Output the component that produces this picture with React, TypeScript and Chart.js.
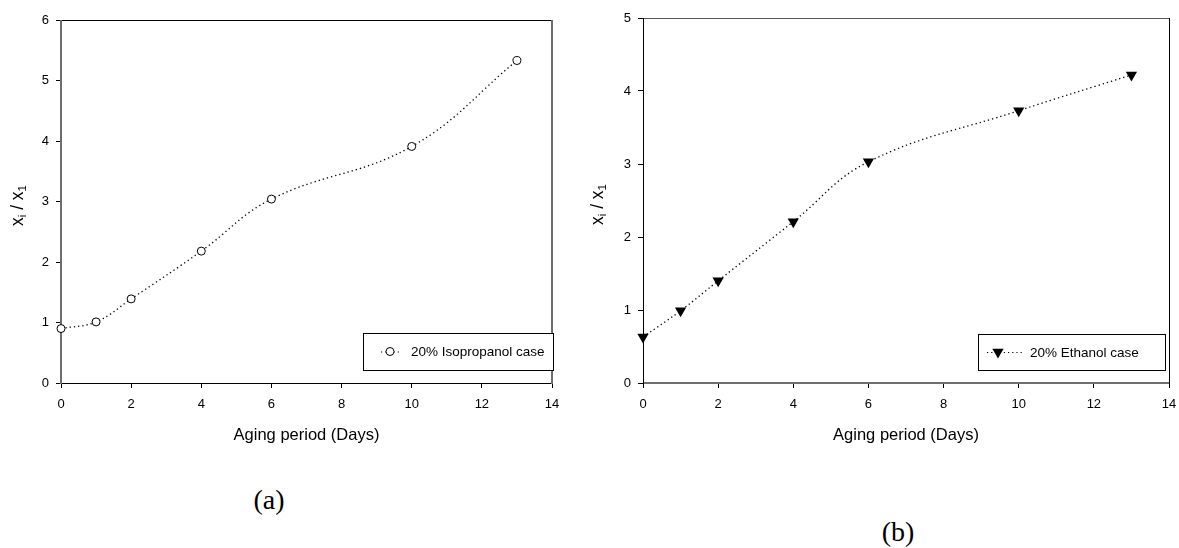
import React, { useEffect, useRef } from "react";
import { Chart, registerables } from "chart.js";

Chart.register(...registerables);

// ---- data ----
const days = [0, 1, 2, 4, 6, 10, 13];
const isopropanolRatio = [0.9, 1.01, 1.39, 2.18, 3.04, 3.91, 5.33];
const ethanolRatio = [0.63, 0.99, 1.4, 2.21, 3.03, 3.73, 4.22];
const xTickValues = [0, 2, 4, 6, 8, 10, 12, 14];
const leftYTicks = [0, 1, 2, 3, 4, 5, 6];
const rightYTicks = [0, 1, 2, 3, 4, 5];
const isoLabel = "20% Isopropanol case";
const ethLabel = "20% Ethanol case";
const xTitle = "Aging period (Days)";
const panelLabels = ["(a)", "(b)"];

const FONT = "'Liberation Sans', Arial, Helvetica, sans-serif";

type Side = { color: string; width: number };
type PanelCfg = {
  frame: { left: Side; bottom: Side; top: Side; right: Side };
  yTitleX: number;
  legend: { left: number; top: number; width: number; height: number; lineFrom: number; lineTo: number; marker: number; textX: number };
  marker: "circle" | "triangleDown";
};

function drawMarker(ctx: CanvasRenderingContext2D, kind: string, x: number, y: number) {
  ctx.save();
  ctx.setLineDash([]);
  if (kind === "circle") {
    ctx.beginPath();
    ctx.arc(x, y, 4, 0, Math.PI * 2);
    ctx.fillStyle = "#fff";
    ctx.fill();
    ctx.lineWidth = 1;
    ctx.strokeStyle = "#000";
    ctx.stroke();
  } else {
    const r = 6.5;
    ctx.beginPath();
    ctx.moveTo(x, y + r);
    ctx.lineTo(x - r * 0.866, y - r / 2);
    ctx.lineTo(x + r * 0.866, y - r / 2);
    ctx.closePath();
    ctx.fillStyle = "#000";
    ctx.fill();
  }
  ctx.restore();
}

function makePlugins(cfg: PanelCfg, legendText: string) {
  const frame = {
    id: "frame",
    beforeDatasetsDraw(chart: any) {
      const { ctx, chartArea: a } = chart;
      const line = (s: Side, x1: number, y1: number, x2: number, y2: number) => {
        ctx.save();
        ctx.strokeStyle = s.color;
        ctx.lineWidth = s.width;
        ctx.beginPath();
        ctx.moveTo(x1, y1);
        ctx.lineTo(x2, y2);
        ctx.stroke();
        ctx.restore();
      };
      const L = Math.round(a.left) + (cfg.frame.left.width % 2 ? 0.5 : 0);
      const R = Math.round(a.right) + (cfg.frame.right.width % 2 ? 0.5 : 0);
      const T = Math.round(a.top) + (cfg.frame.top.width % 2 ? 0.5 : 0);
      const B = Math.round(a.bottom) + (cfg.frame.bottom.width % 2 ? 0.5 : 0);
      line(cfg.frame.top, a.left, T, a.right, T);
      line(cfg.frame.bottom, a.left, B, a.right + 1, B);
      line(cfg.frame.left, L, a.top, L, a.bottom + 1);
      line(cfg.frame.right, R, a.top, R, a.bottom + 1);
    },
  };
  const yTitle = {
    id: "yTitle",
    afterDraw(chart: any) {
      const { ctx, chartArea: a } = chart;
      const cy = (a.top + a.bottom) / 2 + 4;
      const big = `17.5px ${FONT}`;
      const small = `11.5px ${FONT}`;
      const parts: [string, string, number][] = [
        ["x", big, 0],
        ["i", small, 4.5],
        [" / ", big, 0],
        ["x", big, 0],
        ["1", small, 4.5],
      ];
      ctx.save();
      let total = 0;
      const widths = parts.map(([t, f]) => {
        ctx.font = f;
        const w = ctx.measureText(t).width;
        total += w;
        return w;
      });
      ctx.translate(cfg.yTitleX, cy);
      ctx.rotate(-Math.PI / 2);
      ctx.fillStyle = "#000";
      ctx.textBaseline = "middle";
      let x = -total / 2;
      parts.forEach(([t, f, dy], i) => {
        ctx.font = f;
        ctx.fillText(t, x, dy);
        x += widths[i];
      });
      ctx.restore();
    },
  };
  const legend = {
    id: "customLegend",
    afterDraw(chart: any) {
      const { ctx } = chart;
      const g = cfg.legend;
      ctx.save();
      ctx.strokeStyle = "#000";
      ctx.lineWidth = 1;
      ctx.fillStyle = "#fff";
      ctx.fillRect(g.left, g.top, g.width, g.height);
      ctx.strokeRect(g.left + 0.5, g.top + 0.5, g.width, g.height);
      const cy = g.top + g.height / 2;
      ctx.setLineDash([1.2, 3]);
      ctx.lineWidth = 1.2;
      ctx.beginPath();
      ctx.moveTo(g.left + g.lineFrom, cy + 0.5);
      ctx.lineTo(g.left + g.lineTo, cy + 0.5);
      ctx.stroke();
      ctx.setLineDash([]);
      drawMarker(ctx, cfg.marker, g.left + g.marker, cy);
      ctx.fillStyle = "#000";
      ctx.font = `13.5px ${FONT}`;
      ctx.textBaseline = "middle";
      ctx.fillText(legendText, g.left + g.textX, cy + 1);
      ctx.restore();
    },
  };
  return [frame, yTitle, legend];
}

function makeConfig(
  values: number[],
  label: string,
  yTicks: number[],
  yAxisWidth: number,
  padRight: number,
  padTop: number,
  cfg: PanelCfg
): any {
  const isCircle = cfg.marker === "circle";
  return {
    type: "line",
    data: {
      datasets: [
        {
          label,
          data: days.map((d, i) => ({ x: d, y: values[i] })),
          borderColor: "#000",
          borderWidth: 1.3,
          borderDash: [1.3, 3],
          tension: 0.4,
          fill: false,
          clip: false,
          pointStyle: isCircle ? "circle" : "triangle",
          rotation: isCircle ? 0 : 180,
          pointRadius: isCircle ? 4 : 6.5,
          pointBackgroundColor: isCircle ? "#fff" : "#000",
          pointBorderColor: "#000",
          pointBorderWidth: isCircle ? 1 : 0,
        },
      ],
    },
    options: {
      animation: false,
      responsive: false,
      maintainAspectRatio: false,
      events: [],
      layout: { padding: { top: padTop, right: padRight, left: 0, bottom: 0 } },
      plugins: { legend: { display: false }, tooltip: { enabled: false }, title: { display: false } },
      scales: {
        x: {
          type: "linear",
          min: xTickValues[0],
          max: xTickValues[xTickValues.length - 1],
          afterBuildTicks: (s: any) => {
            s.ticks = xTickValues.map((v) => ({ value: v }));
          },
          afterFit: (s: any) => {
            s.height = 70;
            s.paddingLeft = 0;
            s.paddingRight = 0;
          },
          border: { display: false },
          grid: { drawOnChartArea: false, drawTicks: true, tickLength: 5, color: "#000", tickColor: "#000", lineWidth: 1 },
          ticks: { color: "#000", padding: 9, font: { family: FONT, size: 13 }, maxRotation: 0, autoSkip: false },
          title: {
            display: true,
            text: xTitle,
            color: "#000",
            font: { family: FONT, size: 16.5 },
            padding: { top: 0, bottom: 8 },
          },
        },
        y: {
          type: "linear",
          min: yTicks[0],
          max: yTicks[yTicks.length - 1],
          afterBuildTicks: (s: any) => {
            s.ticks = yTicks.map((v) => ({ value: v }));
          },
          afterFit: (s: any) => {
            s.width = yAxisWidth;
            s.paddingTop = 0;
            s.paddingBottom = 0;
          },
          border: { display: false },
          grid: { drawOnChartArea: false, drawTicks: true, tickLength: 5, color: "#000", tickColor: "#000", lineWidth: 1 },
          ticks: { color: "#000", padding: 7, font: { family: FONT, size: 13 } },
          title: { display: false },
        },
      },
    },
    plugins: makePlugins(cfg, label),
  };
}

const leftCfg: PanelCfg = {
  frame: {
    left: { color: "#6e6e6e", width: 2 },
    bottom: { color: "#000", width: 1 },
    top: { color: "#000", width: 1 },
    right: { color: "#6e6e6e", width: 2 },
  },
  yTitleX: 18,
  legend: { left: 363, top: 333, width: 190, height: 37, lineFrom: 18, lineTo: 38, marker: 27, textX: 48 },
  marker: "circle",
};

const rightCfg: PanelCfg = {
  frame: {
    left: { color: "#000", width: 1 },
    bottom: { color: "#6e6e6e", width: 2 },
    top: { color: "#555", width: 1 },
    right: { color: "#000", width: 1 },
  },
  yTitleX: 8,
  legend: { left: 388, top: 334, width: 187, height: 36, lineFrom: 9, lineTo: 44, marker: 20, textX: 52 },
  marker: "triangleDown",
};

function Panel(props: { left: number; width: number; build: () => any }) {
  const ref = useRef<HTMLCanvasElement | null>(null);
  useEffect(() => {
    if (!ref.current) return;
    const chart = new Chart(ref.current, props.build());
    return () => chart.destroy();
  }, []);
  return (
    <canvas
      ref={ref}
      width={props.width}
      height={453}
      style={{ position: "absolute", left: props.left, top: 0, width: props.width, height: 453 }}
    />
  );
}

export default function App() {
  return (
    <div style={{ position: "absolute", left: 0, top: 0, width: 1179, height: 548, background: "#fff", overflow: "hidden" }}>
      <Panel left={0} width={590} build={() => makeConfig(isopropanolRatio, isoLabel, leftYTicks, 61, 38, 20, leftCfg)} />
      <Panel left={590} width={589} build={() => makeConfig(ethanolRatio, ethLabel, rightYTicks, 53, 10, 18, rightCfg)} />
      <div
        style={{
          position: "absolute",
          left: 269,
          top: 500,
          transform: "translate(-50%, -50%)",
          font: "28px 'Liberation Serif', 'Times New Roman', serif",
          lineHeight: 1,
          color: "#000",
        }}
      >
        {panelLabels[0]}
      </div>
      <div
        style={{
          position: "absolute",
          left: 898,
          top: 532,
          transform: "translate(-50%, -50%)",
          font: "28px 'Liberation Serif', 'Times New Roman', serif",
          lineHeight: 1,
          color: "#000",
        }}
      >
        {panelLabels[1]}
      </div>
    </div>
  );
}
